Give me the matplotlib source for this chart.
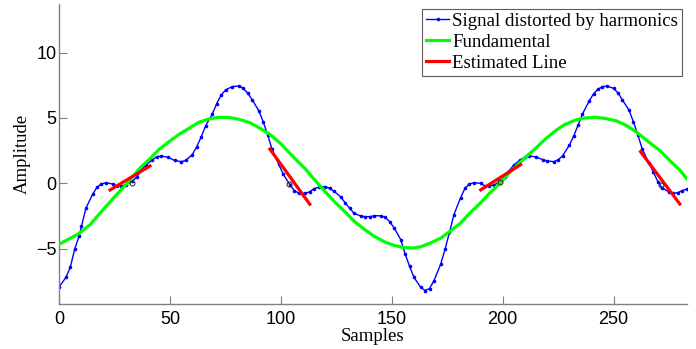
import matplotlib
matplotlib.use("Agg")
import matplotlib.pyplot as plt

# ---- data ----
signal_n = [0, 3, 5, 7, 9, 10, 12, 15, 17, 19, 21, 24, 26, 28, 30, 33, 35, 37, 39, 42,
            44, 46, 49, 52, 55, 57, 60, 62, 64, 66, 69, 71, 73, 75, 78, 81, 83, 85, 87, 90,
            92, 94, 96, 99, 101, 104, 106, 108, 111, 113, 115, 117, 120, 122, 124, 127, 129,
            131, 133, 136, 138, 140, 142, 145, 147, 149, 151, 154, 156, 158, 160, 163, 165,
            167, 169, 172, 174, 176, 178, 181, 183, 185, 187, 190, 192, 194, 196, 199, 201,
            203, 205, 208, 210, 212, 215, 218, 220, 223, 225, 227, 230, 232, 234, 236, 239,
            241, 243, 245, 247, 250, 252, 254, 257, 259, 261, 263, 266, 268, 270, 272, 275,
            277, 279, 281, 283]
signal_v = [-7.9, -7.2, -6.4, -5.0, -4.0, -3.3, -1.9, -0.85, -0.3, -0.05, 0.05, -0.05, -0.2,
            -0.2, -0.1, 0.15, 0.5, 1.0, 1.4, 1.8, 2.04, 2.09, 2.0, 1.75, 1.66, 1.75, 2.2, 2.8,
            3.55, 4.4, 5.3, 6.1, 6.75, 7.15, 7.4, 7.45, 7.27, 6.9, 6.4, 5.55, 4.7, 3.7, 2.6,
            1.45, 0.7, -0.1, -0.55, -0.75, -0.77, -0.64, -0.4, -0.3, -0.26, -0.38, -0.62,
            -1.05, -1.5, -1.9, -2.3, -2.5, -2.55, -2.55, -2.48, -2.48, -2.6, -2.93, -3.4,
            -4.3, -5.4, -6.35, -7.2, -7.95, -8.2, -8.05, -7.45, -6.2, -5.05, -3.75, -2.4,
            -1.1, -0.38, -0.05, 0.05, 0.0, -0.2, -0.2, -0.13, 0.15, 0.5, 0.97, 1.4, 1.8, 2.0,
            2.09, 2.02, 1.82, 1.72, 1.66, 1.79, 2.1, 2.9, 3.6, 4.45, 5.3, 6.3, 6.85, 7.2, 7.4,
            7.45, 7.27, 6.92, 6.38, 5.6, 4.7, 3.7, 2.6, 1.55, 0.85, 0.13, -0.35, -0.65,
            -0.77, -0.71, -0.56, -0.45]

fund_n = [0, 5, 9, 14, 18, 23, 27, 32, 36, 41, 45, 50, 54, 59, 63, 68, 72, 77, 81, 86, 90,
          95, 100, 104, 108, 111, 115, 120, 124, 129, 133, 138, 142, 147, 151, 156, 160,
          163, 167, 172, 176, 181, 185, 190, 194, 199, 203, 207, 210, 215, 219, 224, 228,
          233, 237, 242, 246, 251, 255, 259, 262, 266, 271, 275, 280, 283]
fund_v = [-4.65, -4.2, -3.83, -3.15, -2.35, -1.4, -0.65, 0.25, 1.1, 1.9, 2.6, 3.25, 3.75,
          4.26, 4.68, 4.95, 5.05, 5.03, 4.9, 4.64, 4.26, 3.75, 3.02, 2.3, 1.6, 1.1, 0.3,
          -0.65, -1.38, -2.2, -2.9, -3.57, -4.05, -4.5, -4.75, -4.92, -4.95, -4.85, -4.6,
          -4.2, -3.7, -3.05, -2.3, -1.5, -0.77, 0.05, 0.8, 1.45, 1.95, 2.7, 3.35, 4.05,
          4.5, 4.85, 5.0, 5.05, 4.97, 4.8, 4.5, 4.08, 3.7, 3.15, 2.5, 1.8, 1.0, 0.35]

# estimated line segments: (start_n, end_n), (start_v, end_v)
est_n = [(22.9, 40.9), (95.0, 113.0), (190.1, 208.1), (262.2, 279.9)]
est_v = [(-0.51, 1.33), (2.62, -1.6), (-0.5, 1.43), (2.42, -1.58)]

# sample points marked on the signal
mark_n = [32.6, 103.6, 199.0, 271.3]
mark_v = [0.0, -0.05, 0.08, -0.13]

x_ticks = [0, 50, 100, 150, 200, 250]
y_ticks = [-5, 0, 5, 10]

# ---- figure ----
fig = plt.figure(figsize=(6.96, 3.49), dpi=100)
ax = fig.add_axes([0.0852, 0.1298, 0.9014, 0.8579])

serif = ['Liberation Serif', 'DejaVu Serif']
sans = ['Liberation Sans', 'DejaVu Sans']

ax.plot(signal_n, signal_v, color='#0000ff', lw=1.0, marker='.', ms=3.2,
        label='Signal distorted by harmonics', zorder=2)
ax.plot(fund_n, fund_v, color='#00ff00', lw=2.3, label='Fundamental', zorder=3)
for i, (xs, ys) in enumerate(zip(est_n, est_v)):
    ax.plot(xs, ys, color='#ff0000', lw=2.3, zorder=4,
            label='Estimated Line' if i == 0 else None)
ax.plot(mark_n, mark_v, ls='none', marker='o', ms=3.5, mfc='none', mec='#333333',
        mew=0.8, zorder=5)

ax.set_xlim(0, 283)
ax.set_ylim(-9.21, 13.7)
ax.set_xticks(x_ticks)
ax.set_yticks(y_ticks)
ax.tick_params(direction='in', length=6, width=0.8, color='#808080',
               labelsize=13)
ax.tick_params(axis='y', pad=2)
ax.tick_params(axis='x', pad=5)
for lab in ax.get_xticklabels() + ax.get_yticklabels():
    lab.set_family(sans)
for side in ['top', 'right']:
    ax.spines[side].set_visible(False)
for side in ['left', 'bottom']:
    ax.spines[side].set_color('#808080')
    ax.spines[side].set_linewidth(1.0)

ax.set_xlabel('Samples', family=serif, fontsize=13.5, labelpad=0)
ax.set_ylabel('Amplitude', family=serif, fontsize=13.5, labelpad=4)

leg = ax.legend(loc='upper right', prop={'family': serif, 'size': 13.6},
                frameon=True, fancybox=False, borderpad=0.2, labelspacing=0.2,
                handlelength=1.25, handletextpad=0.15, borderaxespad=0.25)
leg.get_frame().set_edgecolor('#333333')
leg.get_frame().set_linewidth(0.8)

fig.savefig('out.png', dpi=100)
